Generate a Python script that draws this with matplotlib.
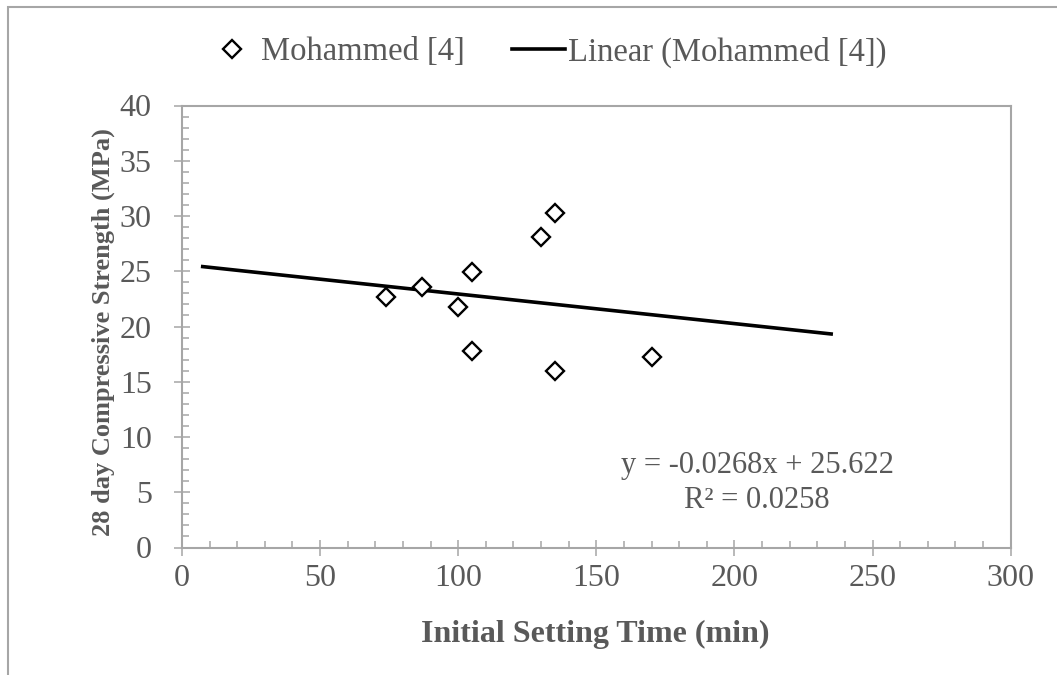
import numpy as np
import matplotlib
matplotlib.use("Agg")
import matplotlib.pyplot as plt
from matplotlib.ticker import MultipleLocator
from matplotlib.patches import Rectangle

# Initial setting time (min) vs 28-day compressive strength (MPa)
setting_time = [74, 87, 100, 105, 105, 130, 135, 135, 170]
strength = [22.7, 23.6, 21.8, 24.9, 17.8, 28.1, 30.3, 16.0, 17.2]

# Linear trendline reported for the series
slope = -0.0268
intercept = 25.622
r_squared = 0.0258
trend_range = [7.5, 235]

series_name = "Mohammed [4]"
x_label = "Initial Setting Time (min)"
y_label = "28 day Compressive Strength (MPa)"

TEXT = "#595959"
AXIS = "#a6a6a6"
FS = 23
plt.rcParams["font.family"] = ["Liberation Serif", "DejaVu Serif"]

W, H = 1057, 675
fig = plt.figure(figsize=(W / 100, H / 100), dpi=100)
ax = fig.add_axes([182 / W, 1 - 547.5 / H, 828.7 / W, 442 / H])

ax.plot(setting_time, strength, linestyle="none", marker="D", markersize=9.5,
        markerfacecolor="white", markeredgecolor="black", markeredgewidth=1.7,
        label=series_name, zorder=3)

tx = np.array(trend_range)
ax.plot(tx, slope * tx + intercept, color="black", linewidth=2.6,
        label=f"Linear ({series_name})", zorder=2)

ax.set_xlim(0, 300)
ax.set_ylim(0, 40)
ax.xaxis.set_major_locator(MultipleLocator(50))
ax.xaxis.set_minor_locator(MultipleLocator(10))
ax.yaxis.set_major_locator(MultipleLocator(5))
ax.yaxis.set_minor_locator(MultipleLocator(1))

for side in ["left", "bottom", "top", "right"]:
    ax.spines[side].set_color(AXIS)
    ax.spines[side].set_linewidth(1.5)

ax.tick_params(which="major", direction="inout", length=11.5, width=1.1,
               color=AXIS, labelsize=FS, labelcolor=TEXT)
ax.tick_params(which="minor", direction="in", length=5, width=1.1, color=AXIS)
ax.tick_params(top=False, right=False, which="both")
ax.tick_params(axis="x", which="major", pad=6)
ax.tick_params(axis="y", which="major", pad=16)

fig.text(595 / W, 1 - 634 / H, x_label, fontsize=FS, fontweight="bold",
         color=TEXT, ha="center", va="center")
fig.text(103 / W, 1 - 332.5 / H, y_label, fontsize=19, fontweight="bold",
         color=TEXT, ha="center", va="center", rotation=90)

fig.text(757 / W, 1 - 483 / H, f"y = {slope}x + {intercept}\nR² = {r_squared}",
         ha="center", va="center", fontsize=22, color=TEXT, linespacing=1.25)

leg = fig.legend(loc="center", bbox_to_anchor=(546 / W, 1 - 52 / H), ncol=2,
                 frameon=False, fontsize=23.5, labelcolor=TEXT,
                 handlelength=1.6, handletextpad=0.1, columnspacing=1.45)

fig.patches.append(Rectangle((7.5 / W, -0.1), 1.2, (H - 7.5) / H + 0.1,
                             transform=fig.transFigure, fill=False,
                             edgecolor=AXIS, linewidth=1.5))

fig.savefig("out.png", dpi=100)
